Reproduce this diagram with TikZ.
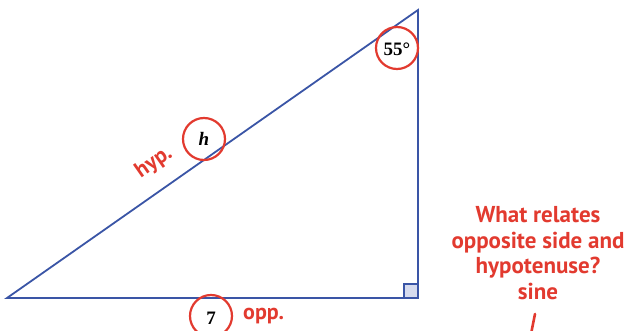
\documentclass[tikz,border=0pt]{standalone}
\usepackage{fontspec}
\setmainfont{Liberation Serif}
\newfontfamily\hand{PT Sans}
\definecolor{tblue}{HTML}{3A55A6}
\definecolor{tred}{HTML}{E23A2F}
\definecolor{sqfill}{HTML}{D6DBEE}
\begin{document}
\begin{tikzpicture}[x=1pt,y=-1pt,
  side/.style={draw=tblue,line width=1.8pt},
  ring/.style={circle,draw=tred,line width=2.2pt,minimum size=42pt,inner sep=0pt},
  note/.style={text=tred,font=\hand\bfseries\fontsize{22}{25.5}\selectfont,inner sep=0pt}]
\useasboundingbox (0,0) rectangle (627,331);
\clip (0,0) rectangle (627,331);
\coordinate (A) at (7,298);
\coordinate (B) at (418,10);
\coordinate (C) at (418,298);
\draw[fill=sqfill,draw=tblue,line width=1.4pt] (404,284) rectangle (C);
\draw[side,line join=miter] (A) -- (B) -- (C) -- cycle;
\node[ring] (ang) at (397,48) {};
\node[font=\bfseries\fontsize{19}{19}\selectfont] (angt) at (397,49) {55°};
\node[ring] (hc) at (204,139) {};
\node[font=\bfseries\itshape\fontsize{19}{19}\selectfont] (ht) at (204,139) {h};
\node[ring] (sc) at (211,316) {};
\node[font=\bfseries\fontsize{19}{19}\selectfont] (st) at (211,318) {7};
\node[note,rotate=35] (hyp) at (154,163) {hyp.};
\node[note,anchor=west] (opp) at (243,316) {opp.};
\node[note,font=\hand\bfseries\fontsize{23}{25.5}\selectfont,align=center] (q) at (538,253) {What relates\\opposite side and\\hypotenuse?\\sine};
\coordinate (s1) at (535,314);
\coordinate (s2) at (531,334);
\draw[tred,line width=2.6pt,line cap=round] (s1) -- (s2);
\end{tikzpicture}
\end{document}
